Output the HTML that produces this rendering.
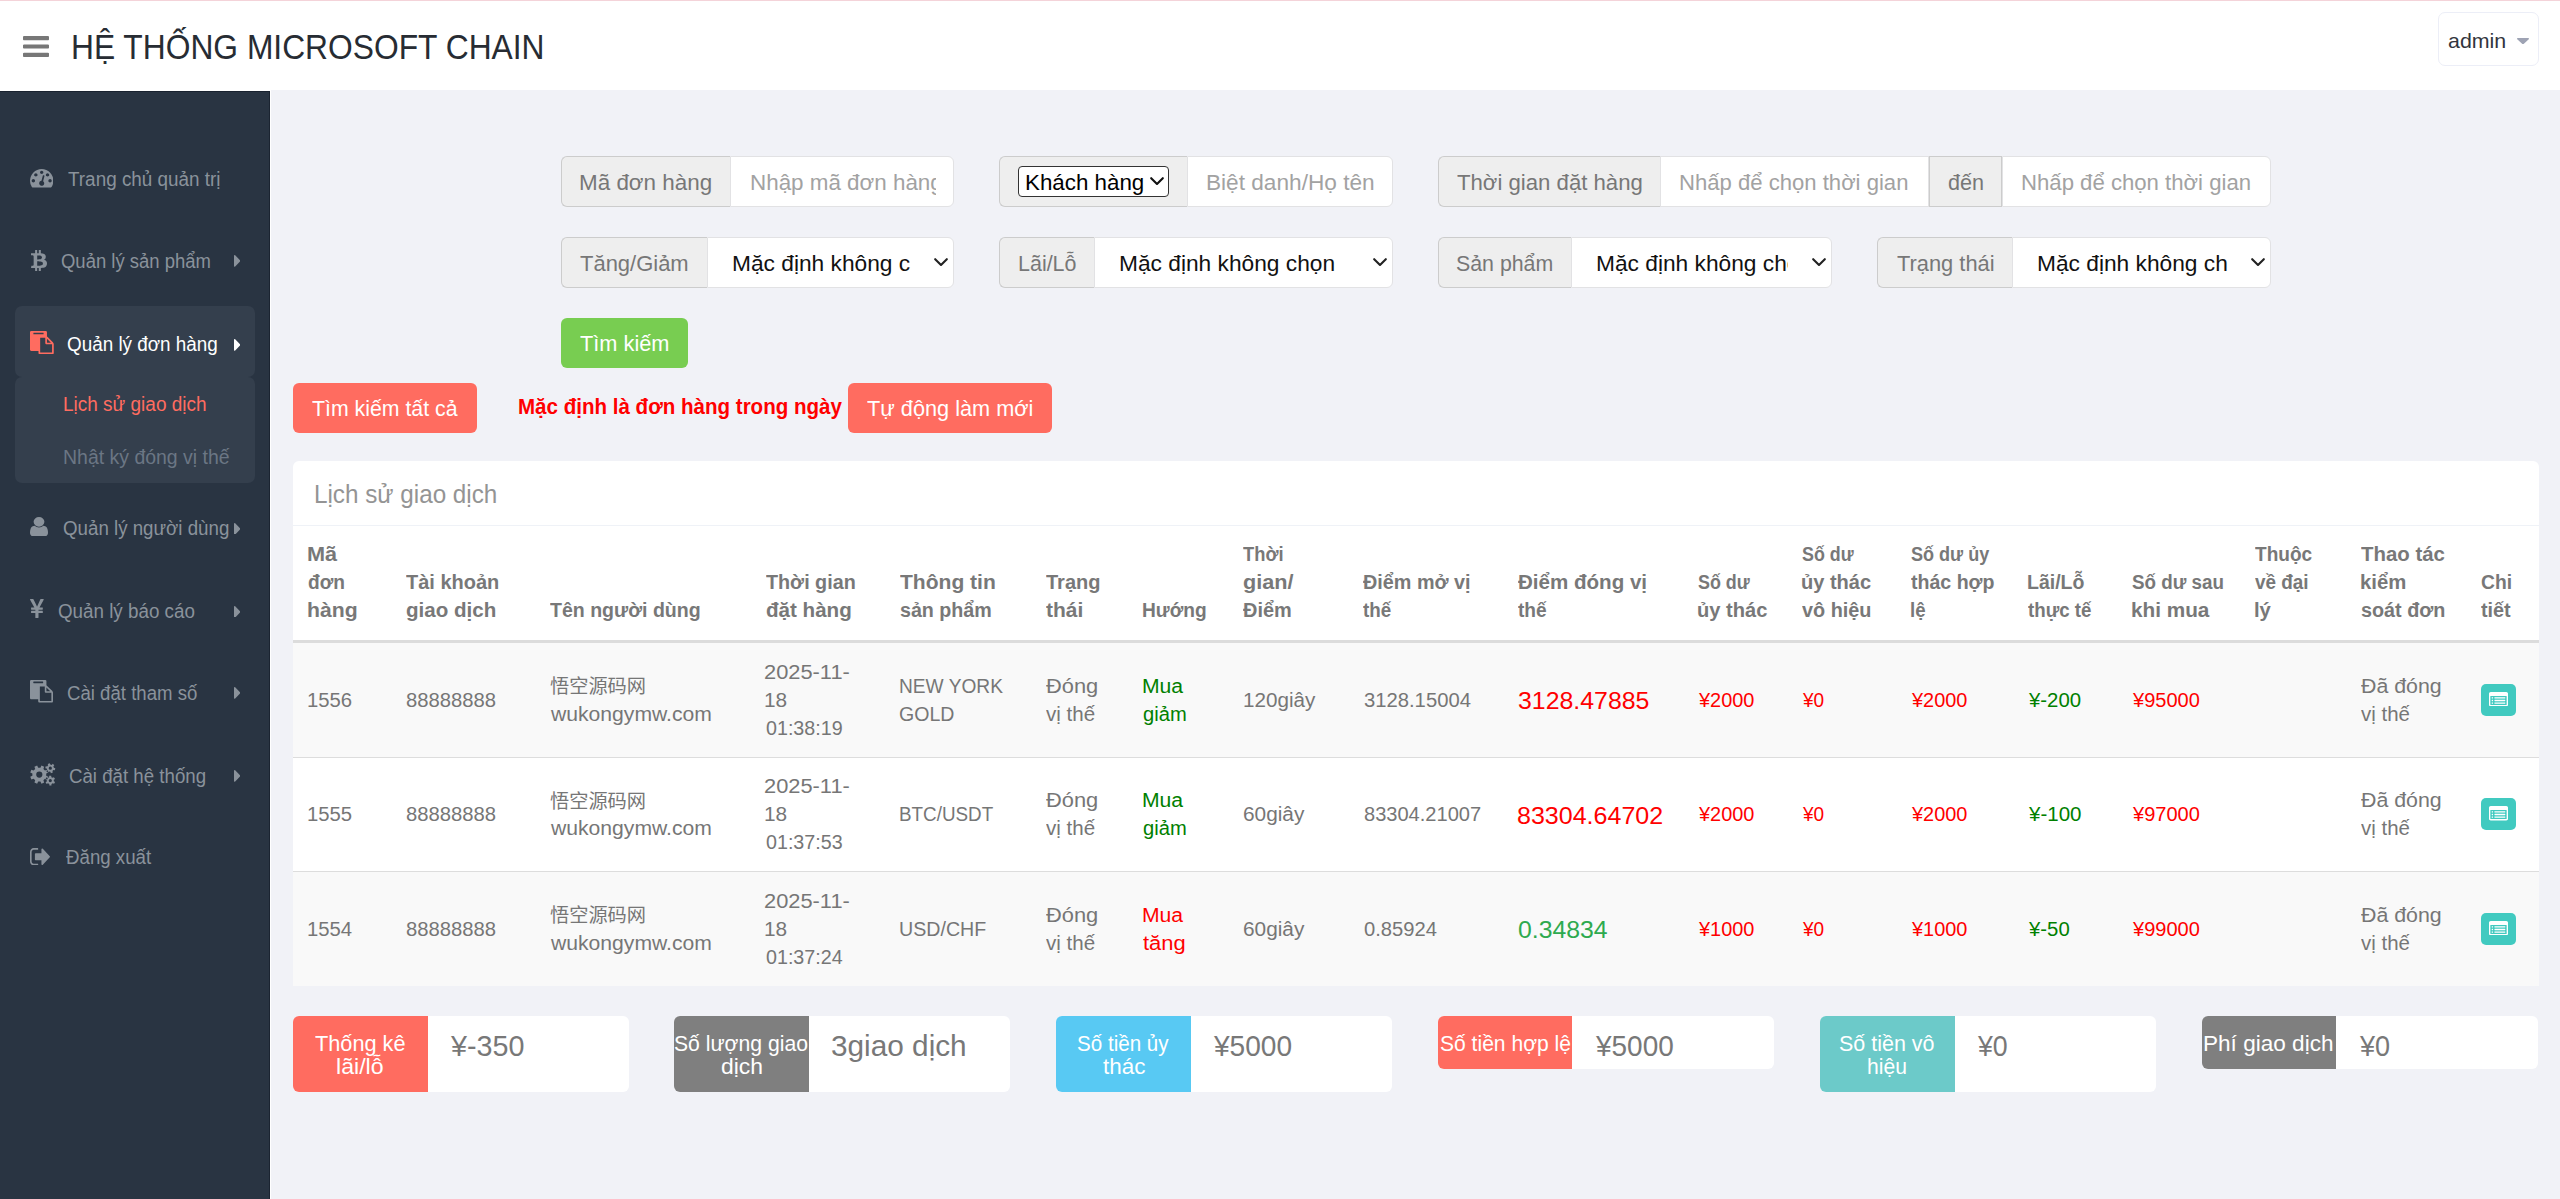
<!DOCTYPE html><html lang="vi"><head><meta charset="utf-8"><title>HỆ THỐNG MICROSOFT CHAIN</title><style>
*{box-sizing:border-box;margin:0;padding:0}
html,body{width:2560px;height:1199px;overflow:hidden}
body{background:#f1f2f7;font-family:"Liberation Sans","Noto Sans CJK SC",sans-serif;font-size:20px;color:#767676;position:relative}
.f{white-space:nowrap;display:inline-block;transform-origin:0 0}
ul{list-style:none}
#topline{position:absolute;left:0;top:0;width:2560px;height:1px;background:#f4d3d9;z-index:5}
header{position:absolute;left:0;top:0;width:2560px;height:90px;background:#fff}
header .bars{position:absolute;left:22px;top:36px;width:27px;height:22px}
header .user{position:absolute;left:2438px;top:12px;width:101px;height:53.5px;border:1.5px solid #eceef7;border-radius:7px;background:#fff}
aside{position:absolute;left:0;top:91px;width:270px;height:1108px;background:#293442;border-top:1px solid #19222f;border-right:1px solid #1b2431}
#hfill{position:absolute;left:0;top:90px;width:271px;height:1px;background:#fff}
aside li{position:absolute;left:0;width:270px}
aside .act{position:absolute;left:15px;top:214px;width:240px;height:71px;background:#343f4d;border-radius:7px}
aside .act2{position:absolute;left:15px;top:285px;width:240px;height:105.5px;background:#343f4d;border-radius:7px}
aside svg{position:absolute}
main{position:absolute;left:270px;top:90px;width:2290px;height:1109px}
#vline{position:absolute;left:270px;top:90px;width:1px;height:1109px;background:#fff}
.grp{position:absolute;height:51px}
.grp .add{position:absolute;top:0;height:51px;background:#eee;border:1px solid #ccc}
.grp .inp{position:absolute;top:0;height:51px;background:#fff;border:1px solid #e2e2e4}
.grp .mini{position:absolute;border:1.5px solid #333;border-radius:4px;background:#fff}
.btn{position:absolute;height:49.5px;border-radius:6px;border:0;font-family:inherit}
.card{position:absolute;background:#fff;border-radius:6px}
table{border-collapse:separate;border-spacing:0;table-layout:fixed;position:absolute;left:0;top:65px;width:2246px}
th,td{padding:0;text-align:left;line-height:28px;font-size:20px;overflow:visible}
th{height:117px;vertical-align:bottom;font-weight:bold;color:#787878;border-bottom:3px solid #dcdcdc;padding-bottom:16px}
td{height:114px;vertical-align:middle;color:#767676;border-bottom:1px solid #ddd;padding-bottom:1px}
tbody tr:first-child td{height:115px}
tbody tr:nth-child(odd) td{background:#f9f9f9}
tbody tr:last-child td{border-bottom:0}
th .f,td .f{display:block;width:max-content}
.r{color:#f00}.g{color:#008000}
.big{font-size:24px}
.ib{display:block;width:35px;height:32px;background:#41cac0;border-radius:5px;position:relative}
.ib svg{position:absolute;left:8px;top:7px}
.stat{position:absolute;background:#fff;border-radius:6px;overflow:hidden;width:336px}
.stat .lab{position:absolute;left:0;top:0;width:134.5px;height:100%;color:#fff}
.sel{position:absolute;overflow:hidden;height:49px;top:1px}
</style></head><body><div id="topline"></div><header><svg style="position:absolute;left:22.50px;top:36.00px;" width="26.00" height="21.00" viewBox="128 256 1536 1280" preserveAspectRatio="none"><path fill="#777" fill-rule="evenodd" d="M1664 1344v128q0 26-19 45t-45 19h-1408q-26 0-45-19t-19-45v-128q0-26 19-45t45-19h1408q26 0 45 19t19 45zm0-512v128q0 26-19 45t-45 19h-1408q-26 0-45-19t-19-45v-128q0-26 19-45t45-19h1408q26 0 45 19t19 45zm0-512v128q0 26-19 45t-45 19h-1408q-26 0-45-19t-19-45v-128q0-26 19-45t45-19h1408q26 0 45 19t19 45z"/></svg><h1 style="font-weight:normal;font-size:0"><span class="f" style="transform:scaleX(0.8947);left:70.71px;position:absolute;top:23.80px;font-size:35.5px;line-height:46px;color:#272c33;">HỆ THỐNG MICROSOFT CHAIN</span></h1><div class="user"><span class="f" style="transform:scaleX(1.0174);left:9.00px;position:absolute;top:14.02px;font-size:21px;line-height:27px;color:#32353d;">admin</span><svg style="position:absolute;left:77.50px;top:24.50px;" width="12.00" height="6.30" viewBox="384 640 1024 576" preserveAspectRatio="none"><path fill="#9ea3b4" fill-rule="evenodd" d="M1408 704q0 26-19 45l-448 448q-19 19-45 19t-45-19l-448-448q-19-19-19-45t19-45 45-19h896q26 0 45 19t19 45z"/></svg></div></header><div id="hfill"></div><div id="vline"></div><aside><div class="act"></div><div class="act2"></div><ul><li style="top:64.00px;height:45px"><svg style="position:absolute;left:29.75px;top:13.40px;" width="23.40" height="18.50" viewBox="0 256 1792 1408" preserveAspectRatio="none"><path fill="#8a929b" fill-rule="evenodd" d="M384 1152q0-53-37.5-90.5t-90.5-37.5-90.5 37.5-37.5 90.5 37.5 90.5 90.5 37.5 90.5-37.5 37.5-90.5zm192-448q0-53-37.5-90.5t-90.5-37.5-90.5 37.5-37.5 90.5 37.5 90.5 90.5 37.5 90.5-37.5 37.5-90.5zm428 481l101-382q6-26-7.5-48.5t-38.5-29.5-48 6.5-30 39.5l-101 382q-60 5-107 43.5t-63 98.5q-20 77 20 146t117 89 146-20 89-117q16-60-6-117t-72-91zm660-33q0-53-37.5-90.5t-90.5-37.5-90.5 37.5-37.5 90.5 37.5 90.5 90.5 37.5 90.5-37.5 37.5-90.5zm-640-640q0-53-37.5-90.5t-90.5-37.5-90.5 37.5-37.5 90.5 37.5 90.5 90.5 37.5 90.5-37.5 37.5-90.5zm448 192q0-53-37.5-90.5t-90.5-37.5-90.5 37.5-37.5 90.5 37.5 90.5 90.5 37.5 90.5-37.5 37.5-90.5zm320 448q0 261-141 483-19 29-54 29h-1402q-35 0-54-29-141-221-141-483 0-182 71-348t191-286 286-191 348-71 348 71 286 191 191 286 71 348z"/></svg><span class="f" style="transform:scaleX(0.9685);left:67.50px;position:absolute;top:11.24px;font-size:19.5px;line-height:25px;color:#8a929b;">Trang chủ quản trị</span></li><li style="top:145.75px;height:45px"><svg style="position:absolute;left:30.60px;top:12.25px;" width="16.00" height="21.30" viewBox="56 384 1203 1664" preserveAspectRatio="none"><path fill="#8a929b" fill-rule="evenodd" d="M1167 896q18 182-131 258 117 28 175 103t45 214q-7 71-32.5 125t-64.5 89-97 58.5-121.5 34.5-145.5 15v255h-154v-251q-80 0-122-1v252h-154v-255q-18 0-54-.5t-55-.5h-200l31-183h111q50 0 58-51v-402h16q-6-1-16-1v-287q-13-68-89-68h-111v-164l212 1q64 0 97-1v-252h154v247q82-2 122-2v-245h154v252q79 7 140 22.5t113 45 82.5 78 36.5 114.5zm-215 545q0-36-15-64t-37-46-57.5-30.5-65.5-18.5-74-9-69-3-64.5 1-47.5 1v338q8 0 37 .5t48 .5 53-1.5 58.5-4 57-8.5 55.5-14 47.5-21 39.5-30 24.5-40 9.5-51zm-71-476q0-33-12.5-58.5t-30.5-42-48-28-55-16.5-61.5-8-58-2.5-54 1-39.5.5v307q5 0 34.5.5t46.5 0 50-2 55-5.5 51.5-11 48.5-18.5 37-27 27-38.5 9-51z"/></svg><span class="f" style="transform:scaleX(0.9477);left:60.60px;position:absolute;top:11.24px;font-size:19.5px;line-height:25px;color:#8a929b;">Quản lý sản phẩm</span><svg style="position:absolute;left:233.75px;top:17.70px;" width="6.30" height="11.80" viewBox="576 384 576 1024" preserveAspectRatio="none"><path fill="#8a929b" fill-rule="evenodd" d="M1152 896q0 26-19 45l-448 448q-19 19-45 19t-45-19-19-45v-896q0-26 19-45t45-19 45 19l448 448q19 19 19 45z"/></svg></li><li style="top:229.25px;height:45px"><svg style="position:absolute;left:30.00px;top:9.25px;" width="23.75" height="23.25" viewBox="0 0 1792 1792" preserveAspectRatio="none"><path fill="#ff6c60" fill-rule="evenodd" d="M768 1664h896v-640h-416q-40 0-68-28t-28-68v-416h-384v1152zm256-1440v-64q0-13-9.5-22.5t-22.5-9.5h-704q-13 0-22.5 9.5t-9.5 22.5v64q0 13 9.5 22.5t22.5 9.5h704q13 0 22.5-9.5t9.5-22.5zm256 672h299l-299-299v299zm512 128v672q0 40-28 68t-68 28h-960q-40 0-68-28t-28-68v-160h-544q-40 0-68-28t-28-68v-1344q0-40 28-68t68-28h1088q40 0 68 28t28 68v328q21 13 36 28l408 408q28 28 48 76t20 88z"/></svg><span class="f" style="transform:scaleX(0.9674);left:67.00px;position:absolute;top:11.24px;font-size:19.5px;line-height:25px;color:#fff;">Quản lý đơn hàng</span><svg style="position:absolute;left:233.75px;top:17.70px;" width="6.30" height="11.80" viewBox="576 384 576 1024" preserveAspectRatio="none"><path fill="#fff" fill-rule="evenodd" d="M1152 896q0 26-19 45l-448 448q-19 19-45 19t-45-19-19-45v-896q0-26 19-45t45-19 45 19l448 448q19 19 19 45z"/></svg><ul><li style="top:59.50px;height:45px"><span class="f" style="transform:scaleX(0.9734);left:62.78px;position:absolute;top:11.24px;font-size:19.5px;line-height:25px;color:#ff6c60;">Lịch sử giao dịch</span></li><li style="top:112.50px;height:45px"><span class="f" style="transform:scaleX(0.9980);left:62.75px;position:absolute;top:11.24px;font-size:19.5px;line-height:25px;color:#6b7684;">Nhật ký đóng vị thế</span></li></ul></li><li style="top:413.00px;height:45px"><svg style="position:absolute;left:30.00px;top:12.00px;" width="18.00" height="19.25" viewBox="256 128 1280 1536" preserveAspectRatio="none"><path fill="#8a929b" fill-rule="evenodd" d="M1536 1399q0 109-62.5 187t-150.5 78h-854q-88 0-150.5-78t-62.5-187q0-85 8.5-160.5t31.5-152 58.5-131 94-89 134.5-34.5q131 128 313 128t313-128q76 0 134.5 34.5t94 89 58.5 131 31.5 152 8.5 160.5zm-256-887q0 159-112.5 271.5t-271.5 112.5-271.5-112.5-112.5-271.5 112.5-271.5 271.5-112.5 271.5 112.5 112.5 271.5z"/></svg><span class="f" style="transform:scaleX(0.9598);left:62.50px;position:absolute;top:11.24px;font-size:19.5px;line-height:25px;color:#8a929b;">Quản lý người dùng</span><svg style="position:absolute;left:233.75px;top:17.70px;" width="6.30" height="11.80" viewBox="576 384 576 1024" preserveAspectRatio="none"><path fill="#8a929b" fill-rule="evenodd" d="M1152 896q0 26-19 45l-448 448q-19 19-45 19t-45-19-19-45v-896q0-26 19-45t45-19 45 19l448 448q19 19 19 45z"/></svg></li><li style="top:496.00px;height:45px"><svg style="position:absolute;left:30.00px;top:11.00px;" width="13.75" height="19.00" viewBox="382 128 1028 1408" preserveAspectRatio="none"><path fill="#8a929b" fill-rule="evenodd" d="M985.5 1536h-172q-13 0-22.5-9t-9.5-23v-330h-288q-13 0-22.5-9t-9.5-23v-103q0-13 9.5-22.5t22.5-9.5h288v-85h-288q-13 0-22.5-9t-9.5-23v-104q0-13 9.5-22.5t22.5-9.5h214l-321-578q-8-16 0-32 10-16 28-16h194q19 0 29 18l215 425q19 38 56 125 10-24 30.5-68t27.5-61l191-420q8-19 29-19h191q17 0 27 16 9 14 1 31l-313 579h215q13 0 22.5 9.5t9.5 22.5v104q0 14-9.5 23t-22.5 9h-290v85h290q13 0 22.5 9.5t9.5 22.5v103q0 14-9.5 23t-22.5 9h-290v330q0 13-9.5 22.5t-22.5 9.5z"/></svg><span class="f" style="transform:scaleX(0.9636);left:57.50px;position:absolute;top:11.24px;font-size:19.5px;line-height:25px;color:#8a929b;">Quản lý báo cáo</span><svg style="position:absolute;left:233.75px;top:17.70px;" width="6.30" height="11.80" viewBox="576 384 576 1024" preserveAspectRatio="none"><path fill="#8a929b" fill-rule="evenodd" d="M1152 896q0 26-19 45l-448 448q-19 19-45 19t-45-19-19-45v-896q0-26 19-45t45-19 45 19l448 448q19 19 19 45z"/></svg></li><li style="top:577.50px;height:45px"><svg style="position:absolute;left:30.00px;top:10.50px;" width="23.00" height="22.50" viewBox="0 0 1792 1792" preserveAspectRatio="none"><path fill="#8a929b" fill-rule="evenodd" d="M768 1664h896v-640h-416q-40 0-68-28t-28-68v-416h-384v1152zm256-1440v-64q0-13-9.5-22.5t-22.5-9.5h-704q-13 0-22.5 9.5t-9.5 22.5v64q0 13 9.5 22.5t22.5 9.5h704q13 0 22.5-9.5t9.5-22.5zm256 672h299l-299-299v299zm512 128v672q0 40-28 68t-68 28h-960q-40 0-68-28t-28-68v-160h-544q-40 0-68-28t-28-68v-1344q0-40 28-68t68-28h1088q40 0 68 28t28 68v328q21 13 36 28l408 408q28 28 48 76t20 88z"/></svg><span class="f" style="transform:scaleX(0.9545);left:67.00px;position:absolute;top:11.24px;font-size:19.5px;line-height:25px;color:#8a929b;">Cài đặt tham số</span><svg style="position:absolute;left:233.75px;top:17.70px;" width="6.30" height="11.80" viewBox="576 384 576 1024" preserveAspectRatio="none"><path fill="#8a929b" fill-rule="evenodd" d="M1152 896q0 26-19 45l-448 448q-19 19-45 19t-45-19-19-45v-896q0-26 19-45t45-19 45 19l448 448q19 19 19 45z"/></svg></li><li style="top:660.50px;height:45px"><svg style="position:absolute;left:29.50px;top:10.45px" width="26" height="23" viewBox="0 0 26 23"><path fill="#8a929b" fill-rule="evenodd" d="M16.21 12.70 L18.34 13.77 L17.23 16.46 L14.96 15.71 L13.41 17.26 L14.16 19.53 L11.47 20.64 L10.40 18.51 L8.20 18.51 L7.13 20.64 L4.44 19.53 L5.19 17.26 L3.64 15.71 L1.37 16.46 L0.26 13.77 L2.39 12.70 L2.39 10.50 L0.26 9.43 L1.37 6.74 L3.64 7.49 L5.19 5.94 L4.44 3.67 L7.13 2.56 L8.20 4.69 L10.40 4.69 L11.47 2.56 L14.16 3.67 L13.41 5.94 L14.96 7.49 L17.23 6.74 L18.34 9.43 L16.21 10.50Z M6.20 11.60 a3.10 3.10 0 1 0 6.20 0 a3.10 3.10 0 1 0 -6.20 0Z M23.88 4.79 L25.30 5.15 L24.89 7.19 L23.43 6.97 L22.44 8.09 L22.84 9.51 L20.87 10.17 L20.33 8.80 L18.87 8.50 L17.84 9.55 L16.28 8.18 L17.20 7.03 L16.72 5.61 L15.30 5.25 L15.71 3.21 L17.17 3.43 L18.16 2.31 L17.76 0.89 L19.73 0.23 L20.27 1.60 L21.73 1.90 L22.76 0.85 L24.32 2.22 L23.40 3.37Z M18.70 5.20 a1.60 1.60 0 1 0 3.20 0 a1.60 1.60 0 1 0 -3.20 0Z M23.84 18.27 L25.09 19.03 L24.09 20.86 L22.77 20.22 L21.49 21.00 L21.45 22.46 L19.38 22.51 L19.27 21.05 L17.95 20.33 L16.66 21.03 L15.58 19.26 L16.80 18.43 L16.76 16.93 L15.51 16.17 L16.51 14.34 L17.83 14.98 L19.11 14.20 L19.15 12.74 L21.22 12.69 L21.33 14.15 L22.65 14.87 L23.94 14.17 L25.02 15.94 L23.80 16.77Z M18.70 17.60 a1.60 1.60 0 1 0 3.20 0 a1.60 1.60 0 1 0 -3.20 0Z"/></svg><span class="f" style="transform:scaleX(0.9577);left:68.75px;position:absolute;top:11.24px;font-size:19.5px;line-height:25px;color:#8a929b;">Cài đặt hệ thống</span><svg style="position:absolute;left:233.75px;top:17.70px;" width="6.30" height="11.80" viewBox="576 384 576 1024" preserveAspectRatio="none"><path fill="#8a929b" fill-rule="evenodd" d="M1152 896q0 26-19 45l-448 448q-19 19-45 19t-45-19-19-45v-896q0-26 19-45t45-19 45 19l448 448q19 19 19 45z"/></svg></li><li style="top:741.75px;height:45px"><svg style="position:absolute;left:30.00px;top:13.75px;" width="20.00" height="17.50" viewBox="64 256 1568 1280" preserveAspectRatio="none"><path fill="#8a929b" fill-rule="evenodd" d="M704 1440q0 4 1 20t.5 26.5-3 23.5-10 19.5-20.5 6.5h-320q-119 0-203.5-84.5t-84.5-203.5v-704q0-119 84.5-203.5t203.5-84.5h320q13 0 22.5 9.5t9.5 22.5q0 4 1 20t.5 26.5-3 23.5-10 19.5-20.5 6.5h-320q-66 0-113 47t-47 113v704q0 66 47 113t113 47h312l11.5 1 11.5 3 8 5.5 7 9 2 13.5zm928-544q0 26-19 45l-544 544q-19 19-45 19t-45-19-19-45v-288h-448q-26 0-45-19t-19-45v-384q0-26 19-45t45-19h448v-288q0-26 19-45t45-19 45 19l544 544q19 19 19 45z"/></svg><span class="f" style="transform:scaleX(0.9584);left:65.50px;position:absolute;top:11.24px;font-size:19.5px;line-height:25px;color:#8a929b;">Đăng xuất</span></li></ul></aside><main><form><div class="grp" style="left:291px;top:66px;width:393px"><span class="add" style="left:0px;width:169px;border-right:0;border-radius:6px 0 0 6px;"></span><span class="f" style="transform:scaleX(1.0192);left:18.38px;position:absolute;top:12.38px;font-size:22px;line-height:29px;color:#777;">Mã đơn hàng</span><span class="inp" style="left:169px;width:224px;border-radius:0 6px 6px 0;"></span><span class="sel" style="left:186.60px;width:188.00px"><span class="f" style="transform:scaleX(1.0182);left:1.98px;position:absolute;top:11.38px;font-size:22px;line-height:29px;color:#a2a2a2;">Nhập mã đơn hàng</span></span></div><div class="grp" style="left:729px;top:66px;width:394px"><span class="add" style="left:0px;width:188px;border-right:0;border-radius:6px 0 0 6px;"></span><span class="mini" style="left:19.20px;top:10.20px;width:150.50px;height:31.30px"></span><span class="f" style="transform:scaleX(1.0156);left:25.98px;position:absolute;top:12.38px;font-size:22px;line-height:29px;color:#000;">Khách hàng</span><svg style="position:absolute;left:150.50px;top:21.00px" width="14" height="9" viewBox="0 0 14 9"><path d="M1.2 1.2 L7 7 L12.8 1.2" fill="none" stroke="#111" stroke-width="2.1" stroke-linecap="round" stroke-linejoin="round"/></svg><span class="inp" style="left:188px;width:206px;border-radius:0 6px 6px 0;"></span><span class="sel" style="left:205.00px;width:177.30px"><span class="f" style="transform:scaleX(1.0287);left:1.97px;position:absolute;top:11.38px;font-size:22px;line-height:29px;color:#a2a2a2;">Biệt danh/Họ tên</span></span></div><div class="grp" style="left:1168px;top:66px;width:833px"><span class="add" style="left:0px;width:222px;border-right:0;border-radius:6px 0 0 6px;"></span><span class="f" style="transform:scaleX(1.0076);left:19.30px;position:absolute;top:12.38px;font-size:22px;line-height:29px;color:#777;">Thời gian đặt hàng</span><span class="inp" style="left:222px;width:269px;"></span><span class="sel" style="left:239.20px;width:238.20px"><span class="f" style="transform:scaleX(1.0042);left:2.00px;position:absolute;top:11.38px;font-size:22px;line-height:29px;color:#a2a2a2;">Nhấp để chọn thời gian</span></span><span class="add" style="left:491px;width:73px;"></span><span class="f" style="transform:scaleX(0.9811);left:509.80px;position:absolute;top:12.38px;font-size:22px;line-height:29px;color:#777;">đến</span><span class="inp" style="left:564px;width:269px;border-radius:0 6px 6px 0;"></span><span class="sel" style="left:580.70px;width:238.80px"><span class="f" style="transform:scaleX(1.0069);left:1.99px;position:absolute;top:11.38px;font-size:22px;line-height:29px;color:#a2a2a2;">Nhấp để chọn thời gian</span></span></div><div class="grp" style="left:291px;top:147px;width:393px"><span class="add" style="left:0px;width:146px;border-right:0;border-radius:6px 0 0 6px;"></span><span class="f" style="transform:scaleX(0.9987);left:19.40px;position:absolute;top:12.38px;font-size:22px;line-height:29px;color:#777;">Tăng/Giảm</span><span class="inp" style="left:146px;width:247px;border-radius:0 6px 6px 0;"></span><span class="sel" style="left:169.00px;width:181.00px"><span class="f" style="transform:scaleX(1.0333);left:1.97px;position:absolute;top:11.38px;font-size:22px;line-height:29px;color:#111;">Mặc định không chọn</span></span><svg style="position:absolute;left:373.00px;top:21.30px" width="14" height="9" viewBox="0 0 14 9"><path d="M1.2 1.2 L7 7 L12.8 1.2" fill="none" stroke="#222" stroke-width="2.1" stroke-linecap="round" stroke-linejoin="round"/></svg></div><div class="grp" style="left:729px;top:147px;width:394px"><span class="add" style="left:0px;width:95px;border-right:0;border-radius:6px 0 0 6px;"></span><span class="f" style="transform:scaleX(0.9760);left:18.92px;position:absolute;top:12.38px;font-size:22px;line-height:29px;color:#777;">Lãi/Lỗ</span><span class="inp" style="left:95px;width:299px;border-radius:0 6px 6px 0;"></span><span class="sel" style="left:118.20px;width:232.80px"><span class="f" style="transform:scaleX(1.0333);left:1.97px;position:absolute;top:11.38px;font-size:22px;line-height:29px;color:#111;">Mặc định không chọn</span></span><svg style="position:absolute;left:374.00px;top:21.30px" width="14" height="9" viewBox="0 0 14 9"><path d="M1.2 1.2 L7 7 L12.8 1.2" fill="none" stroke="#222" stroke-width="2.1" stroke-linecap="round" stroke-linejoin="round"/></svg></div><div class="grp" style="left:1168px;top:147px;width:394px"><span class="add" style="left:0px;width:133px;border-right:0;border-radius:6px 0 0 6px;"></span><span class="f" style="transform:scaleX(0.9698);left:18.33px;position:absolute;top:12.38px;font-size:22px;line-height:29px;color:#777;">Sản phẩm</span><span class="inp" style="left:133px;width:261px;border-radius:0 6px 6px 0;"></span><span class="sel" style="left:155.90px;width:194.60px"><span class="f" style="transform:scaleX(1.0333);left:1.97px;position:absolute;top:11.38px;font-size:22px;line-height:29px;color:#111;">Mặc định không chọn</span></span><svg style="position:absolute;left:374.00px;top:21.30px" width="14" height="9" viewBox="0 0 14 9"><path d="M1.2 1.2 L7 7 L12.8 1.2" fill="none" stroke="#222" stroke-width="2.1" stroke-linecap="round" stroke-linejoin="round"/></svg></div><div class="grp" style="left:1607px;top:147px;width:394px"><span class="add" style="left:0px;width:135px;border-right:0;border-radius:6px 0 0 6px;"></span><span class="f" style="transform:scaleX(0.9933);left:19.50px;position:absolute;top:12.38px;font-size:22px;line-height:29px;color:#777;">Trạng thái</span><span class="inp" style="left:135px;width:259px;border-radius:0 6px 6px 0;"></span><span class="sel" style="left:158.20px;width:192.80px"><span class="f" style="transform:scaleX(1.0333);left:1.97px;position:absolute;top:11.38px;font-size:22px;line-height:29px;color:#111;">Mặc định không chọn</span></span><svg style="position:absolute;left:374.00px;top:21.30px" width="14" height="9" viewBox="0 0 14 9"><path d="M1.2 1.2 L7 7 L12.8 1.2" fill="none" stroke="#222" stroke-width="2.1" stroke-linecap="round" stroke-linejoin="round"/></svg></div><button type="button" class="btn" style="left:291.25px;top:228.00px;width:126.75px;height:49.75px;background:#78cd51"><span class="f" style="transform:scaleX(0.9673);left:18.75px;position:absolute;top:11.45px;font-size:22.5px;line-height:29px;color:#fff;">Tìm kiếm</span></button><button type="button" class="btn" style="left:23.00px;top:293.25px;width:184.00px;height:49.50px;background:#ff6c60"><span class="f" style="transform:scaleX(0.9464);left:19.00px;position:absolute;top:10.45px;font-size:22.5px;line-height:29px;color:#fff;">Tìm kiếm tất cả</span></button><span class="f" style="transform:scaleX(0.9556);left:247.79px;position:absolute;top:302.80px;font-size:21.5px;line-height:28px;color:#f00;font-weight:bold;">Mặc định là đơn hàng trong ngày</span><button type="button" class="btn" style="left:578.00px;top:293.25px;width:204.00px;height:49.50px;background:#ff6c60"><span class="f" style="transform:scaleX(0.9646);left:19.00px;position:absolute;top:10.45px;font-size:22.5px;line-height:29px;color:#fff;">Tự động làm mới</span></button></form><section class="card" style="left:23px;top:371px;width:2246px;height:525px;border-radius:6px 6px 0 0"><div style="position:absolute;left:0;top:0;width:100%;height:65px;border-bottom:1px solid #eff2f7"><span class="f" style="transform:scaleX(0.9696);left:20.81px;position:absolute;top:16.84px;font-size:25px;line-height:32px;color:#949494;">Lịch sử giao dịch</span></div><table><colgroup><col style="width:97px"><col style="width:144px"><col style="width:217px"><col style="width:134px"><col style="width:146px"><col style="width:97px"><col style="width:100px"><col style="width:120px"><col style="width:155px"><col style="width:180px"><col style="width:104px"><col style="width:108px"><col style="width:118px"><col style="width:104px"><col style="width:123px"><col style="width:107px"><col style="width:119px"><col style="width:73px"></colgroup><thead><tr><th><span class="f" style="transform:scaleX(1.0846);margin-left:13.92px;">Mã</span><span class="f" style="transform:scaleX(0.9550);margin-left:15.00px;">đơn</span><span class="f" style="transform:scaleX(1.0591);margin-left:13.94px;">hàng</span></th><th><span class="f" style="transform:scaleX(0.9986);margin-left:15.50px;">Tài khoản</span><span class="f" style="transform:scaleX(1.0281);margin-left:15.50px;">giao dịch</span></th><th><span class="f" style="transform:scaleX(0.9770);margin-left:15.50px;">Tên người dùng</span></th><th><span class="f" style="transform:scaleX(0.9870);margin-left:14.50px;">Thời gian</span><span class="f" style="transform:scaleX(1.0291);margin-left:14.50px;">đặt hàng</span></th><th><span class="f" style="transform:scaleX(1.0517);margin-left:15.00px;">Thông tin</span><span class="f" style="transform:scaleX(0.9830);margin-left:15.00px;">sản phẩm</span></th><th><span class="f" style="transform:scaleX(1.0003);margin-left:15.25px;">Trạng</span><span class="f" style="transform:scaleX(1.0500);margin-left:15.25px;">thái</span></th><th><span class="f" style="transform:scaleX(0.9562);margin-left:14.04px;">Hướng</span></th><th><span class="f" style="transform:scaleX(0.9163);margin-left:15.00px;">Thời</span><span class="f" style="transform:scaleX(1.0825);margin-left:15.00px;">gian/</span><span class="f" style="transform:scaleX(0.9974);margin-left:15.00px;">Điểm</span></th><th><span class="f" style="transform:scaleX(0.9894);margin-left:15.00px;">Điểm mở vị</span><span class="f" style="transform:scaleX(0.9392);margin-left:15.00px;">thế</span></th><th><span class="f" style="transform:scaleX(1.0279);margin-left:14.50px;">Điểm đóng vị</span><span class="f" style="transform:scaleX(0.9554);margin-left:14.50px;">thế</span></th><th><span class="f" style="transform:scaleX(0.8958);margin-left:15.25px;">Số dư</span><span class="f" style="transform:scaleX(1.0051);margin-left:14.24px;">ủy thác</span></th><th><span class="f" style="transform:scaleX(0.8915);margin-left:14.75px;">Số dư</span><span class="f" style="transform:scaleX(1.0015);margin-left:13.75px;">ủy thác</span><span class="f" style="transform:scaleX(0.9921);margin-left:14.75px;">vô hiệu</span></th><th><span class="f" style="transform:scaleX(0.9020);margin-left:15.50px;">Số dư ủy</span><span class="f" style="transform:scaleX(0.9781);margin-left:15.50px;">thác hợp</span><span class="f" style="transform:scaleX(0.9321);margin-left:14.57px;">lệ</span></th><th><span class="f" style="transform:scaleX(0.9754);margin-left:14.27px;">Lãi/Lỗ</span><span class="f" style="transform:scaleX(0.9352);margin-left:15.25px;">thực tế</span></th><th><span class="f" style="transform:scaleX(0.9393);margin-left:14.75px;">Số dư sau</span><span class="f" style="transform:scaleX(1.0371);margin-left:13.71px;">khi mua</span></th><th><span class="f" style="transform:scaleX(0.9521);margin-left:15.00px;">Thuộc</span><span class="f" style="transform:scaleX(0.9440);margin-left:15.00px;">về đại</span><span class="f" style="transform:scaleX(1.0117);margin-left:13.99px;">lý</span></th><th><span class="f" style="transform:scaleX(1.0199);margin-left:14.25px;">Thao tác</span><span class="f" style="transform:scaleX(1.0159);margin-left:13.23px;">kiểm</span><span class="f" style="transform:scaleX(0.9897);margin-left:14.25px;">soát đơn</span></th><th><span class="f" style="transform:scaleX(0.9634);margin-left:14.75px;">Chi</span><span class="f" style="transform:scaleX(0.9888);margin-left:14.75px;">tiết</span></th></tr></thead><tbody><tr><td><span class="f" style="transform:scaleX(1.0145);margin-left:14.49px;">1556</span></td><td><span class="f" style="transform:scaleX(1.0128);margin-left:16.25px;">88888888</span></td><td><span class="f" style="transform:scaleX(1.0106);margin-left:16.00px;font-size:19px;position:relative;top:1.5px">悟空源码网</span><span class="f" style="transform:scaleX(1.0566);margin-left:17.06px;">wukongymw.com</span></td><td><span class="f" style="transform:scaleX(1.0921);margin-left:13.41px;">2025-11-</span><span class="f" style="transform:scaleX(1.0415);margin-left:13.46px;">18</span><span class="f" style="transform:scaleX(0.9842);margin-left:14.50px;">01:38:19</span></td><td><span class="f" style="transform:scaleX(0.9580);margin-left:14.04px;">NEW YORK</span><span class="f" style="transform:scaleX(0.9776);margin-left:14.02px;">GOLD</span></td><td><span class="f" style="transform:scaleX(1.0923);margin-left:15.00px;">Đóng</span><span class="f" style="transform:scaleX(1.0277);margin-left:15.00px;">vị thế</span></td><td class="g"><span class="f" style="transform:scaleX(1.0572);margin-left:13.94px;">Mua</span><span class="f" style="transform:scaleX(1.0073);margin-left:15.00px;">giảm</span></td><td><span class="f" style="transform:scaleX(1.0317);margin-left:14.72px;">120giây</span></td><td><span class="f" style="transform:scaleX(1.0115);margin-left:15.75px;">3128.15004</span></td><td style="color:#f00;padding-top:3px"><span class="f" style="transform:scaleX(1.0150);margin-left:15.00px;font-size:24.5px">3128.47885</span></td><td class="r"><span class="f" style="transform:scaleX(0.9957);margin-left:16.25px;">¥2000</span></td><td class="r"><span class="f" style="transform:scaleX(0.9514);margin-left:15.70px;">¥0</span></td><td class="r"><span class="f" style="transform:scaleX(0.9957);margin-left:16.50px;">¥2000</span></td><td class="g"><span class="f" style="transform:scaleX(1.0187);margin-left:16.27px;">¥-200</span></td><td class="r"><span class="f" style="transform:scaleX(1.0020);margin-left:15.75px;">¥95000</span></td><td></td><td><span class="f" style="transform:scaleX(1.0672);margin-left:14.25px;">Đã đóng</span><span class="f" style="transform:scaleX(1.0224);margin-left:14.25px;">vị thế</span></td><td><a class="ib" style="margin-left:14.75px"><svg style="position:absolute;left:8.20px;top:8.20px;" width="19.00" height="14.40" viewBox="0 128 1792 1408" preserveAspectRatio="none"><path fill="#fff" fill-rule="evenodd" d="M384 1184v64q0 13-9.5 22.5t-22.5 9.5h-64q-13 0-22.5-9.5t-9.5-22.5v-64q0-13 9.5-22.5t22.5-9.5h64q13 0 22.5 9.5t9.5 22.5zm0-256v64q0 13-9.5 22.5t-22.5 9.5h-64q-13 0-22.5-9.5t-9.5-22.5v-64q0-13 9.5-22.5t22.5-9.5h64q13 0 22.5 9.5t9.5 22.5zm0-256v64q0 13-9.5 22.5t-22.5 9.5h-64q-13 0-22.5-9.5t-9.5-22.5v-64q0-13 9.5-22.5t22.5-9.5h64q13 0 22.5 9.5t9.5 22.5zm1152 512v64q0 13-9.5 22.5t-22.5 9.5h-960q-13 0-22.5-9.5t-9.5-22.5v-64q0-13 9.5-22.5t22.5-9.5h960q13 0 22.5 9.5t9.5 22.5zm0-256v64q0 13-9.5 22.5t-22.5 9.5h-960q-13 0-22.5-9.5t-9.5-22.5v-64q0-13 9.5-22.5t22.5-9.5h960q13 0 22.5 9.5t9.5 22.5zm0-256v64q0 13-9.5 22.5t-22.5 9.5h-960q-13 0-22.5-9.5t-9.5-22.5v-64q0-13 9.5-22.5t22.5-9.5h960q13 0 22.5 9.5t9.5 22.5zm128 704v-832q0-13-9.5-22.5t-22.5-9.5h-1472q-13 0-22.5 9.5t-9.5 22.5v832q0 13 9.5 22.5t22.5 9.5h1472q13 0 22.5-9.5t9.5-22.5zm128-1088v1088q0 66-47 113t-113 47h-1472q-66 0-113-47t-47-113v-1088q0-66 47-113t113-47h1472q66 0 113 47t47 113z"/></svg></a></td></tr><tr><td><span class="f" style="transform:scaleX(1.0145);margin-left:14.49px;">1555</span></td><td><span class="f" style="transform:scaleX(1.0128);margin-left:16.25px;">88888888</span></td><td><span class="f" style="transform:scaleX(1.0106);margin-left:16.00px;font-size:19px;position:relative;top:1.5px">悟空源码网</span><span class="f" style="transform:scaleX(1.0566);margin-left:17.06px;">wukongymw.com</span></td><td><span class="f" style="transform:scaleX(1.0921);margin-left:13.41px;">2025-11-</span><span class="f" style="transform:scaleX(1.0415);margin-left:13.46px;">18</span><span class="f" style="transform:scaleX(0.9842);margin-left:14.50px;">01:37:53</span></td><td><span class="f" style="transform:scaleX(0.9415);margin-left:14.06px;">BTC/USDT</span></td><td><span class="f" style="transform:scaleX(1.0923);margin-left:15.00px;">Đóng</span><span class="f" style="transform:scaleX(1.0277);margin-left:15.00px;">vị thế</span></td><td class="g"><span class="f" style="transform:scaleX(1.0572);margin-left:13.94px;">Mua</span><span class="f" style="transform:scaleX(1.0073);margin-left:15.00px;">giảm</span></td><td><span class="f" style="transform:scaleX(1.0399);margin-left:14.71px;">60giây</span></td><td><span class="f" style="transform:scaleX(1.0029);margin-left:15.75px;">83304.21007</span></td><td style="color:#f00;padding-top:3px"><span class="f" style="transform:scaleX(1.0216);margin-left:13.98px;font-size:24.5px">83304.64702</span></td><td class="r"><span class="f" style="transform:scaleX(0.9957);margin-left:16.25px;">¥2000</span></td><td class="r"><span class="f" style="transform:scaleX(0.9514);margin-left:15.70px;">¥0</span></td><td class="r"><span class="f" style="transform:scaleX(0.9957);margin-left:16.50px;">¥2000</span></td><td class="g"><span class="f" style="transform:scaleX(1.0263);margin-left:16.28px;">¥-100</span></td><td class="r"><span class="f" style="transform:scaleX(1.0020);margin-left:15.75px;">¥97000</span></td><td></td><td><span class="f" style="transform:scaleX(1.0672);margin-left:14.25px;">Đã đóng</span><span class="f" style="transform:scaleX(1.0224);margin-left:14.25px;">vị thế</span></td><td><a class="ib" style="margin-left:14.75px"><svg style="position:absolute;left:8.20px;top:8.20px;" width="19.00" height="14.40" viewBox="0 128 1792 1408" preserveAspectRatio="none"><path fill="#fff" fill-rule="evenodd" d="M384 1184v64q0 13-9.5 22.5t-22.5 9.5h-64q-13 0-22.5-9.5t-9.5-22.5v-64q0-13 9.5-22.5t22.5-9.5h64q13 0 22.5 9.5t9.5 22.5zm0-256v64q0 13-9.5 22.5t-22.5 9.5h-64q-13 0-22.5-9.5t-9.5-22.5v-64q0-13 9.5-22.5t22.5-9.5h64q13 0 22.5 9.5t9.5 22.5zm0-256v64q0 13-9.5 22.5t-22.5 9.5h-64q-13 0-22.5-9.5t-9.5-22.5v-64q0-13 9.5-22.5t22.5-9.5h64q13 0 22.5 9.5t9.5 22.5zm1152 512v64q0 13-9.5 22.5t-22.5 9.5h-960q-13 0-22.5-9.5t-9.5-22.5v-64q0-13 9.5-22.5t22.5-9.5h960q13 0 22.5 9.5t9.5 22.5zm0-256v64q0 13-9.5 22.5t-22.5 9.5h-960q-13 0-22.5-9.5t-9.5-22.5v-64q0-13 9.5-22.5t22.5-9.5h960q13 0 22.5 9.5t9.5 22.5zm0-256v64q0 13-9.5 22.5t-22.5 9.5h-960q-13 0-22.5-9.5t-9.5-22.5v-64q0-13 9.5-22.5t22.5-9.5h960q13 0 22.5 9.5t9.5 22.5zm128 704v-832q0-13-9.5-22.5t-22.5-9.5h-1472q-13 0-22.5 9.5t-9.5 22.5v832q0 13 9.5 22.5t22.5 9.5h1472q13 0 22.5-9.5t9.5-22.5zm128-1088v1088q0 66-47 113t-113 47h-1472q-66 0-113-47t-47-113v-1088q0-66 47-113t113-47h1472q66 0 113 47t47 113z"/></svg></a></td></tr><tr><td><span class="f" style="transform:scaleX(1.0145);margin-left:14.49px;">1554</span></td><td><span class="f" style="transform:scaleX(1.0128);margin-left:16.25px;">88888888</span></td><td><span class="f" style="transform:scaleX(1.0106);margin-left:16.00px;font-size:19px;position:relative;top:1.5px">悟空源码网</span><span class="f" style="transform:scaleX(1.0566);margin-left:17.06px;">wukongymw.com</span></td><td><span class="f" style="transform:scaleX(1.0921);margin-left:13.41px;">2025-11-</span><span class="f" style="transform:scaleX(1.0415);margin-left:13.46px;">18</span><span class="f" style="transform:scaleX(0.9842);margin-left:14.50px;">01:37:24</span></td><td><span class="f" style="transform:scaleX(0.9810);margin-left:14.02px;">USD/CHF</span></td><td><span class="f" style="transform:scaleX(1.0923);margin-left:15.00px;">Đóng</span><span class="f" style="transform:scaleX(1.0277);margin-left:15.00px;">vị thế</span></td><td class="r"><span class="f" style="transform:scaleX(1.0572);margin-left:13.94px;">Mua</span><span class="f" style="transform:scaleX(1.0978);margin-left:15.00px;">tăng</span></td><td><span class="f" style="transform:scaleX(1.0399);margin-left:14.71px;">60giây</span></td><td><span class="f" style="transform:scaleX(1.0087);margin-left:15.75px;">0.85924</span></td><td style="color:#2eaa4f;padding-top:3px"><span class="f" style="transform:scaleX(1.0121);margin-left:15.00px;font-size:24.5px">0.34834</span></td><td class="r"><span class="f" style="transform:scaleX(0.9957);margin-left:16.25px;">¥1000</span></td><td class="r"><span class="f" style="transform:scaleX(0.9514);margin-left:15.70px;">¥0</span></td><td class="r"><span class="f" style="transform:scaleX(0.9957);margin-left:16.50px;">¥1000</span></td><td class="g"><span class="f" style="transform:scaleX(1.0170);margin-left:16.27px;">¥-50</span></td><td class="r"><span class="f" style="transform:scaleX(1.0020);margin-left:15.75px;">¥99000</span></td><td></td><td><span class="f" style="transform:scaleX(1.0672);margin-left:14.25px;">Đã đóng</span><span class="f" style="transform:scaleX(1.0224);margin-left:14.25px;">vị thế</span></td><td><a class="ib" style="margin-left:14.75px"><svg style="position:absolute;left:8.20px;top:8.20px;" width="19.00" height="14.40" viewBox="0 128 1792 1408" preserveAspectRatio="none"><path fill="#fff" fill-rule="evenodd" d="M384 1184v64q0 13-9.5 22.5t-22.5 9.5h-64q-13 0-22.5-9.5t-9.5-22.5v-64q0-13 9.5-22.5t22.5-9.5h64q13 0 22.5 9.5t9.5 22.5zm0-256v64q0 13-9.5 22.5t-22.5 9.5h-64q-13 0-22.5-9.5t-9.5-22.5v-64q0-13 9.5-22.5t22.5-9.5h64q13 0 22.5 9.5t9.5 22.5zm0-256v64q0 13-9.5 22.5t-22.5 9.5h-64q-13 0-22.5-9.5t-9.5-22.5v-64q0-13 9.5-22.5t22.5-9.5h64q13 0 22.5 9.5t9.5 22.5zm1152 512v64q0 13-9.5 22.5t-22.5 9.5h-960q-13 0-22.5-9.5t-9.5-22.5v-64q0-13 9.5-22.5t22.5-9.5h960q13 0 22.5 9.5t9.5 22.5zm0-256v64q0 13-9.5 22.5t-22.5 9.5h-960q-13 0-22.5-9.5t-9.5-22.5v-64q0-13 9.5-22.5t22.5-9.5h960q13 0 22.5 9.5t9.5 22.5zm0-256v64q0 13-9.5 22.5t-22.5 9.5h-960q-13 0-22.5-9.5t-9.5-22.5v-64q0-13 9.5-22.5t22.5-9.5h960q13 0 22.5 9.5t9.5 22.5zm128 704v-832q0-13-9.5-22.5t-22.5-9.5h-1472q-13 0-22.5 9.5t-9.5 22.5v832q0 13 9.5 22.5t22.5 9.5h1472q13 0 22.5-9.5t9.5-22.5zm128-1088v1088q0 66-47 113t-113 47h-1472q-66 0-113-47t-47-113v-1088q0-66 47-113t113-47h1472q66 0 113 47t47 113z"/></svg></a></td></tr></tbody></table></section><div class="stat" style="left:23.00px;top:926px;height:75.75px"><div class="lab" style="background:#ff6c60"><span class="f" style="transform:scaleX(0.9646);left:22.00px;position:absolute;top:13.45px;font-size:22.5px;line-height:29px;color:#fff;">Thống kê</span><span class="f" style="transform:scaleX(1.0277);left:42.97px;position:absolute;top:35.95px;font-size:22.5px;line-height:29px;color:#fff;">lãi/lỗ</span></div><span class="f" style="transform:scaleX(0.9572);left:157.96px;position:absolute;top:10.11px;font-size:30px;line-height:39px;color:#787878;">¥-350</span></div><div class="stat" style="left:404.25px;top:926px;height:75.75px"><div class="lab" style="background:#7f7f7f"><span class="f" style="transform:scaleX(0.9404);left:-0.19px;position:absolute;top:13.45px;font-size:22.5px;line-height:29px;color:#fff;">Số lượng giao</span><span class="f" style="transform:scaleX(1.0181);left:46.25px;position:absolute;top:35.95px;font-size:22.5px;line-height:29px;color:#fff;">dịch</span></div><span class="f" style="transform:scaleX(0.9919);left:156.76px;position:absolute;top:10.11px;font-size:30px;line-height:39px;color:#787878;">3giao dịch</span></div><div class="stat" style="left:786.00px;top:926px;height:75.75px"><div class="lab" style="background:#58c9f3"><span class="f" style="transform:scaleX(0.9157);left:21.28px;position:absolute;top:13.45px;font-size:22.5px;line-height:29px;color:#fff;">Số tiền ủy</span><span class="f" style="transform:scaleX(0.9982);left:46.80px;position:absolute;top:35.95px;font-size:22.5px;line-height:29px;color:#fff;">thác</span></div><span class="f" style="transform:scaleX(0.9363);left:158.14px;position:absolute;top:10.11px;font-size:30px;line-height:39px;color:#787878;">¥5000</span></div><div class="stat" style="left:1167.90px;top:926px;height:52.7px"><div class="lab" style="background:#ff6c60"><span class="f" style="transform:scaleX(0.9362);left:2.16px;position:absolute;top:13.45px;font-size:22.5px;line-height:29px;color:#fff;">Số tiền hợp lệ</span></div><span class="f" style="transform:scaleX(0.9315);left:158.03px;position:absolute;top:10.11px;font-size:30px;line-height:39px;color:#787878;">¥5000</span></div><div class="stat" style="left:1550.10px;top:926px;height:75.75px"><div class="lab" style="background:#6ccac9"><span class="f" style="transform:scaleX(0.9548);left:19.15px;position:absolute;top:13.45px;font-size:22.5px;line-height:29px;color:#fff;">Số tiền vô</span><span class="f" style="transform:scaleX(0.9384);left:46.96px;position:absolute;top:35.95px;font-size:22.5px;line-height:29px;color:#fff;">hiệu</span></div><span class="f" style="transform:scaleX(0.8906);left:158.29px;position:absolute;top:10.11px;font-size:30px;line-height:39px;color:#787878;">¥0</span></div><div class="stat" style="left:1931.60px;top:926px;height:52.7px"><div class="lab" style="background:#7f7f7f"><span class="f" style="transform:scaleX(1.0033);left:1.70px;position:absolute;top:13.45px;font-size:22.5px;line-height:29px;color:#fff;">Phí giao dịch</span></div><span class="f" style="transform:scaleX(0.9025);left:158.30px;position:absolute;top:10.11px;font-size:30px;line-height:39px;color:#787878;">¥0</span></div></main></body></html>
